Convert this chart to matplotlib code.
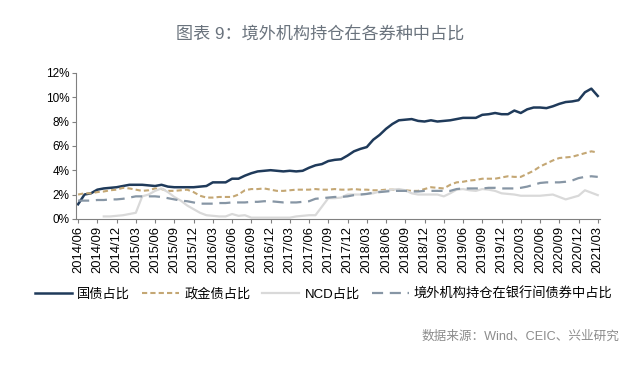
import numpy as np
import pandas as pd
from matplotlib import pyplot as plt

plt.rcParams['font.family'] = ['Liberation Sans', 'Noto Sans CJK SC', 'DejaVu Sans']

# 月度日期 2014/06 - 2021/03
dates = pd.date_range('2014-06-01', '2021-03-01', freq='MS')

gov = [1.2, 2.0, 2.1, 2.4, 2.5, 2.55, 2.6, 2.7, 2.8, 2.8, 2.8, 2.75, 2.7, 2.8, 2.65, 2.6,
       2.6, 2.6, 2.6, 2.65, 2.7, 3.0, 3.0, 3.0, 3.3, 3.3, 3.55, 3.75, 3.9, 3.95, 4.0, 3.95,
       3.9, 3.95, 3.9, 3.95, 4.2, 4.4, 4.5, 4.75, 4.85, 4.9, 5.2, 5.55, 5.75, 5.9, 6.5, 6.9,
       7.4, 7.8, 8.1, 8.15, 8.2, 8.05, 8.0, 8.1, 8.0, 8.05, 8.1, 8.2, 8.3, 8.3, 8.3, 8.55,
       8.6, 8.7, 8.6, 8.6, 8.9, 8.7, 9.0, 9.15, 9.15, 9.1, 9.25, 9.45, 9.6, 9.65, 9.75, 10.4,
       10.7, 10.1]

policy = [2.0, 2.1, 2.1, 2.2, 2.25, 2.35, 2.4, 2.55, 2.5, 2.4, 2.3, 2.35, 2.5, 2.45, 2.3, 2.3,
          2.35, 2.4, 2.2, 1.9, 1.75, 1.75, 1.8, 1.8, 1.8, 2.0, 2.35, 2.45, 2.45, 2.5, 2.4, 2.3,
          2.3, 2.35, 2.4, 2.4, 2.4, 2.45, 2.4, 2.4, 2.45, 2.4, 2.4, 2.45, 2.4, 2.4, 2.35, 2.35,
          2.4, 2.4, 2.35, 2.35, 2.3, 2.3, 2.45, 2.6, 2.55, 2.5, 2.8, 3.0, 3.05, 3.15, 3.2, 3.3,
          3.3, 3.3, 3.4, 3.5, 3.45, 3.45, 3.7, 3.95, 4.3, 4.55, 4.8, 5.0, 5.05, 5.1, 5.25, 5.4,
          5.55, 5.45]

ncd = [np.nan, np.nan, np.nan, np.nan, 0.2, 0.2, 0.25, 0.3, 0.4, 0.5, 1.85, 2.0, 2.3, 2.5, 2.2, 1.8,
       1.5, 1.1, 0.8, 0.5, 0.3, 0.25, 0.2, 0.2, 0.4, 0.25, 0.3, 0.1, 0.1, 0.1, 0.1, 0.1,
       0.1, 0.1, 0.2, 0.25, 0.3, 0.3, 1.0, 1.7, 1.7, 1.75, 2.0, 2.0, 2.0, 2.05, 2.1, 2.25,
       2.3, 2.4, 2.45, 2.35, 2.1, 2.0, 2.0, 2.0, 2.0, 1.85, 2.1, 2.4, 2.45, 2.35, 2.3, 2.45,
       2.4, 2.3, 2.1, 2.05, 2.0, 1.9, 1.9, 1.9, 1.9, 1.95, 2.0, 1.8, 1.6, 1.75, 1.9, 2.35,
       2.15, 1.95]

foreign = [1.5, 1.5, 1.5, 1.55, 1.55, 1.6, 1.6, 1.65, 1.75, 1.85, 1.85, 1.85, 1.85, 1.8, 1.7, 1.6,
           1.5, 1.45, 1.35, 1.25, 1.25, 1.25, 1.3, 1.3, 1.35, 1.35, 1.35, 1.4, 1.4, 1.45, 1.45, 1.4,
           1.35, 1.35, 1.35, 1.4, 1.45, 1.65, 1.7, 1.75, 1.8, 1.8, 1.85, 1.95, 2.0, 2.05, 2.15, 2.2,
           2.25, 2.3, 2.3, 2.3, 2.25, 2.25, 2.3, 2.3, 2.3, 2.3, 2.3, 2.45, 2.5, 2.5, 2.5, 2.5,
           2.55, 2.55, 2.5, 2.5, 2.5, 2.55, 2.65, 2.8, 2.95, 3.0, 3.0, 3.0, 3.05, 3.15, 3.35, 3.45,
           3.5, 3.45]

labels = ['国债占比', '政金债占比', 'NCD占比', '境外机构持仓在银行间债券中占比']

fig = plt.figure(figsize=(6.4, 3.66), dpi=100)
ax = fig.add_axes([0.119, 0.402, 0.818, 0.399])

x = np.arange(len(dates))
ax.plot(x, gov, color='#1f3a5a', lw=1.8, label=labels[0])
ax.plot(x, policy, color='#c4a774', lw=1.5, dashes=(2.5, 1.5), label=labels[1])
ax.plot(x, ncd, color='#d9d9d9', lw=1.6, label=labels[2])
ax.plot(x, foreign, color='#8796a5', lw=1.6, dashes=(5, 3), label=labels[3])

ax.set_xlim(-0.3, 81.3)
ax.set_ylim(0, 12)
ax.set_yticks(np.arange(0, 13, 2))
ax.set_yticklabels(['%d%%' % v for v in range(0, 13, 2)], fontsize=8.5)

tick_idx = x[::3]
ax.set_xticks(tick_idx)
ax.set_xticklabels([dates[i].strftime('%Y/%m') for i in tick_idx], rotation=90, fontsize=9.3)

for s in ['top', 'right']:
    ax.spines[s].set_visible(False)
for s in ['left', 'bottom']:
    ax.spines[s].set_color('#808080')
    ax.spines[s].set_linewidth(0.8)
ax.tick_params(axis='both', colors='#808080', length=3, width=0.8, labelcolor='black', pad=2)

fig.text(0.5, 0.905, '图表 9：境外机构持仓在各券种中占比', ha='center', va='center',
         fontsize=12.3, color='#6a737d')

fig.legend(loc='center', bbox_to_anchor=(0.506, 0.197), ncol=4, frameon=False,
           fontsize=9.5, handlelength=2.8, columnspacing=0.9, handletextpad=0.4)

fig.text(0.968, 0.08, '数据来源：Wind、CEIC、兴业研究', ha='right', va='center',
         fontsize=9.1, color='#8c8c8c')

fig.savefig('out.png', dpi=100)
